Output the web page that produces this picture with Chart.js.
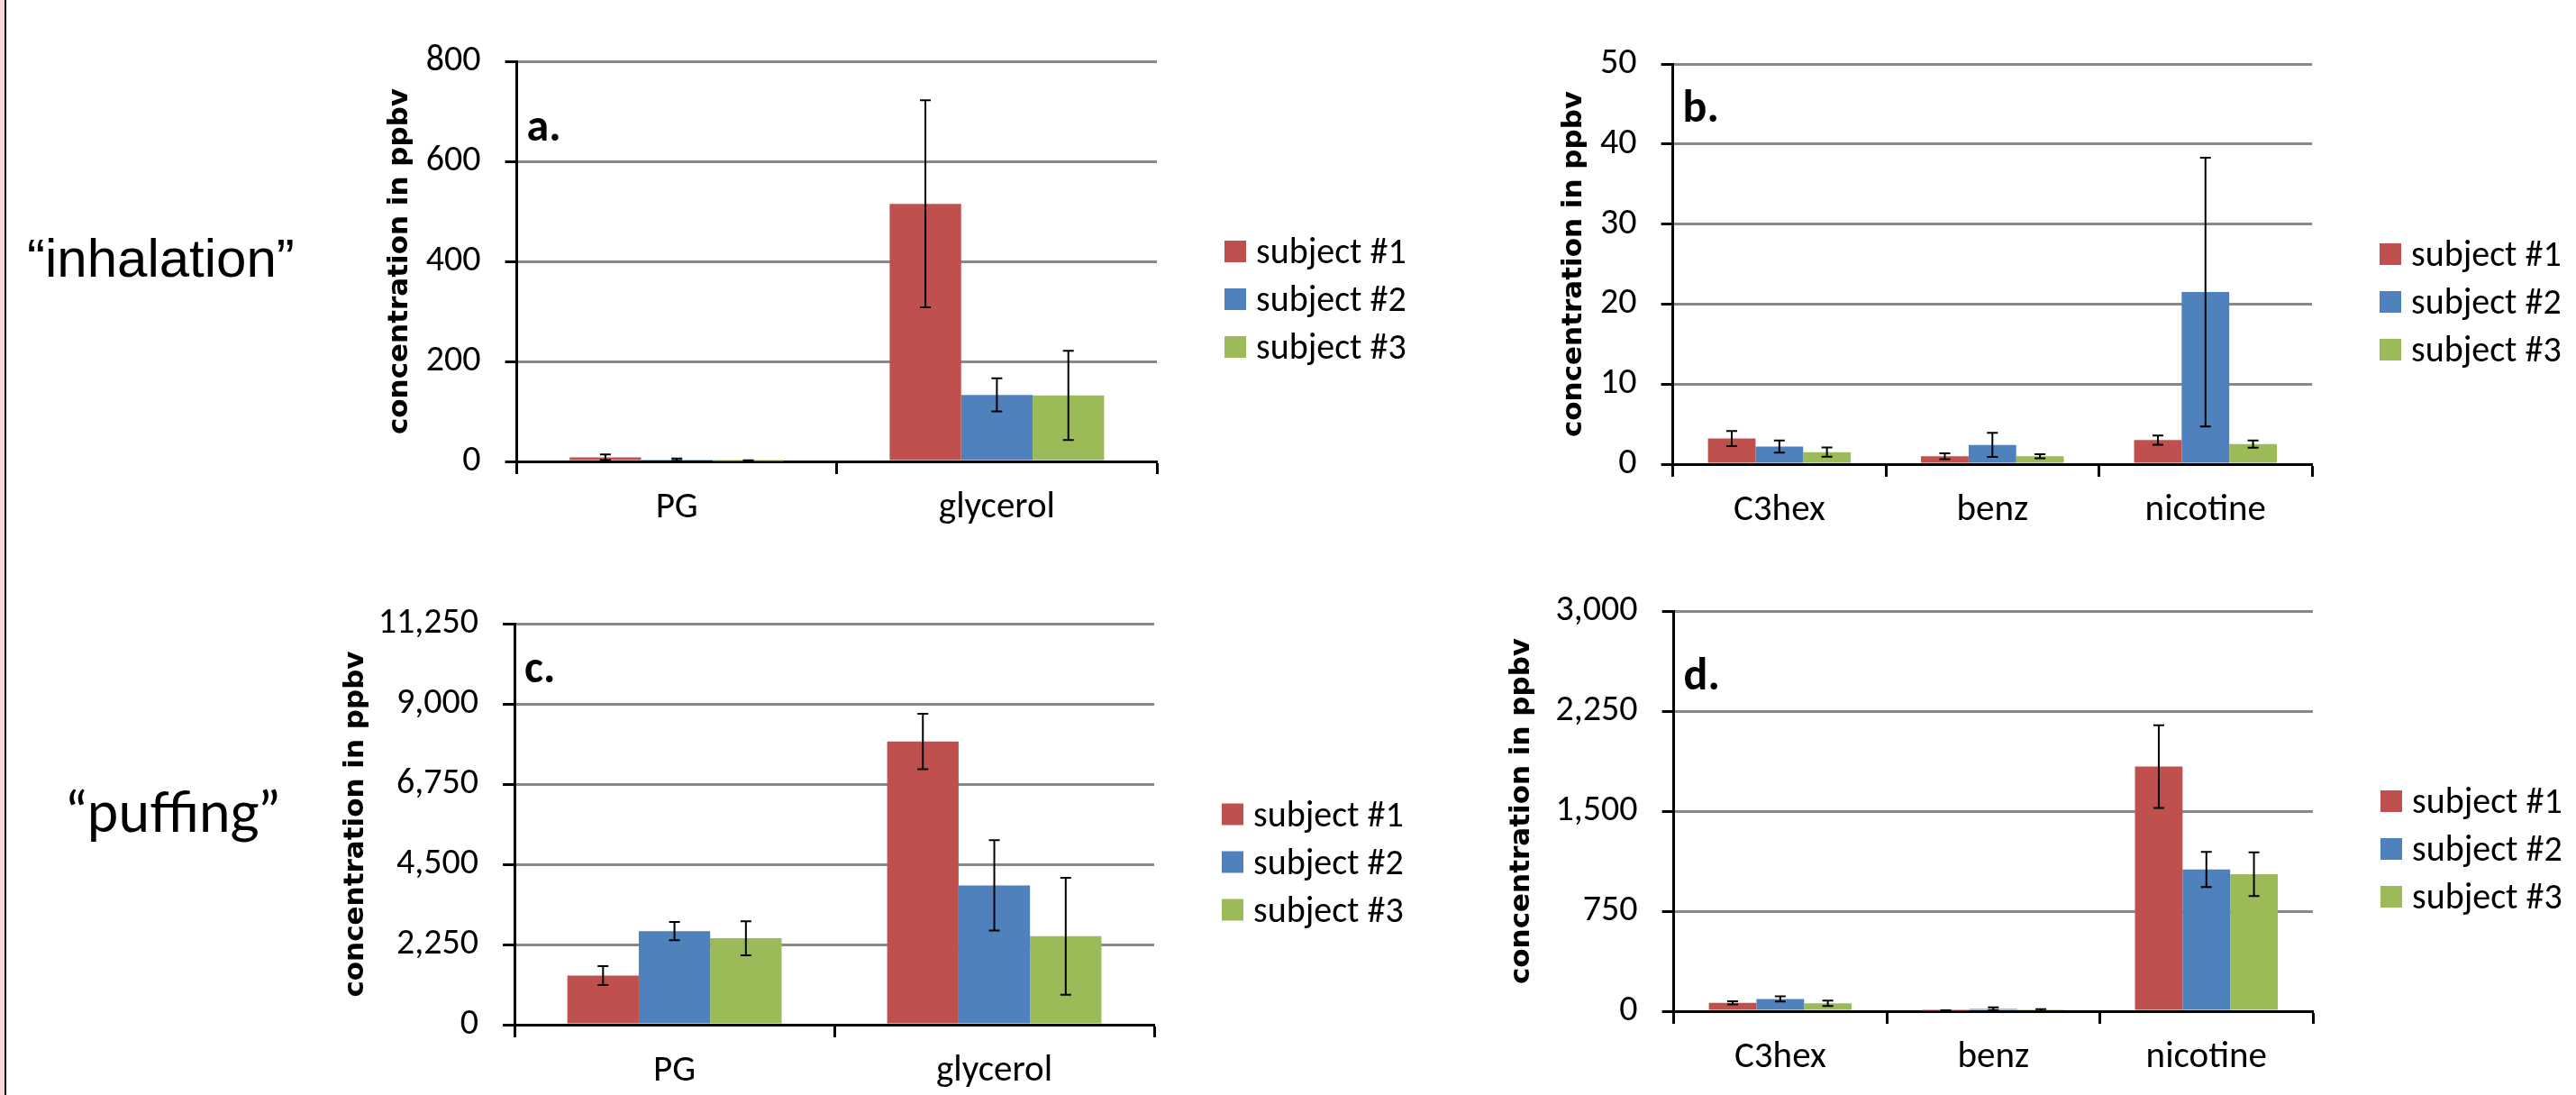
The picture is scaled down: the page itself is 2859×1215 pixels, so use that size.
<!DOCTYPE html>
<html>
<head>
<meta charset="utf-8">
<script src="https://cdn.jsdelivr.net/npm/chart.js@4.4.1/dist/chart.umd.min.js"></script>
<style>
    html, body { margin: 0; padding: 0; background: #fff; }
    body { width: 2859px; height: 1215px; position: relative; overflow: hidden; }
    .edge { position: absolute; left: 0; top: 0; width: 5px; height: 1215px; background: #fcd9d6; border-right: 2px solid #111; }
    .side { position: absolute; color: #000; white-space: nowrap; line-height: 1; font-variant-ligatures: none; }
    canvas { position: absolute; }
</style>
</head>
<body>
<div class="edge"></div>
<div class="side" style="left:30px;top:252px;font:60px 'Liberation Sans', Arial, sans-serif;">“inhalation”</div>
<div class="side" style="left:74px;top:862px;font:62px Lato, sans-serif;">“puffing”</div>

<canvas id="chart-a"></canvas>
<canvas id="chart-b"></canvas>
<canvas id="chart-c"></canvas>
<canvas id="chart-d"></canvas>

<script>
// ── Data ──────────────────────────────────────────────────────────────────────
const seriesNames = ['subject #1', 'subject #2', 'subject #3'];
const seriesColors = ['#C0504D', '#4F81BD', '#9BBB59'];

// a. "inhalation", PG / glycerol
const aCategories = ['PG', 'glycerol'];
const aTicks = [0, 200, 400, 600, 800];
const aSubject1 = [8.3, 515];
const aSubject2 = [3.5, 133];
const aSubject3 = [0.8, 132];
const aSubject1Err = [5.5, 207];
const aSubject2Err = [2.3, 33];
const aSubject3Err = [1.5, 89];

// b. "inhalation", C3hex / benz / nicotine
const bCategories = ['C3hex', 'benz', 'nicotine'];
const bTicks = [0, 10, 20, 30, 40, 50];
const bSubject1 = [3.2, 0.98, 3.0];
const bSubject2 = [2.2, 2.4, 21.5];
const bSubject3 = [1.5, 0.98, 2.5];
const bSubject1Err = [0.95, 0.37, 0.58];
const bSubject2Err = [0.77, 1.5, 16.8];
const bSubject3Err = [0.57, 0.25, 0.45];

// c. "puffing", PG / glycerol
const cCategories = ['PG', 'glycerol'];
const cTicks = [0, 2250, 4500, 6750, 9000, 11250];
const cSubject1 = [1380, 7944];
const cSubject2 = [2625, 3909];
const cSubject3 = [2424, 2482];
const cSubject1Err = [265, 777];
const cSubject2Err = [254, 1265];
const cSubject3Err = [479, 1640];

// d. "puffing", C3hex / benz / nicotine
const dCategories = ['C3hex', 'benz', 'nicotine'];
const dTicks = [0, 750, 1500, 2250, 3000];
const dSubject1 = [63, 4, 1834];
const dSubject2 = [92, 17, 1063];
const dSubject3 = [59, 7, 1027];
const dSubject1Err = [12, 3, 310];
const dSubject2Err = [19, 11, 132];
const dSubject3Err = [20, 8, 164];

// ── Shared styling ────────────────────────────────────────────────────────────
const TEXT_FONT = 'Carlito, Calibri, Lato, sans-serif';
const PAD_TOP = 40;
const X_AXIS_H = 90;
const LEGEND_ROOM = 330;

// whiskers from value - err to value + err
const errorBars = {
    id: 'errorBars',
    afterDatasetsDraw(chart) {
        const { ctx } = chart;
        const y = chart.scales.y;
        ctx.save();
        ctx.strokeStyle = '#000';
        ctx.lineWidth = 2;
        chart.data.datasets.forEach((ds, i) => {
            chart.getDatasetMeta(i).data.forEach((bar, j) => {
                const v = ds.data[j], e = ds.errors[j];
                const top = y.getPixelForValue(v + e);
                const bot = y.getPixelForValue(v - e);
                ctx.beginPath();
                ctx.moveTo(bar.x, top); ctx.lineTo(bar.x, bot);
                ctx.moveTo(bar.x - 6, top); ctx.lineTo(bar.x + 6, top);
                ctx.moveTo(bar.x - 6, bot); ctx.lineTo(bar.x + 6, bot);
                ctx.stroke();
            });
        });
        ctx.restore();
    },
};

// legend to the right of the plot, a little below its middle
const sideLegend = {
    id: 'sideLegend',
    afterDraw(chart) {
        const { ctx, chartArea: a } = chart;
        const mid = (a.top + a.bottom) / 2 + 42;
        ctx.save();
        ctx.font = `40px ${TEXT_FONT}`;
        ctx.textBaseline = 'alphabetic';
        chart.data.datasets.forEach((ds, i) => {
            const cy = mid + (i - 1) * 53;
            ctx.fillStyle = ds.backgroundColor;
            ctx.fillRect(a.right + 75, cy - 12, 24, 24);
            ctx.fillStyle = '#000';
            ctx.fillText(ds.label, a.right + 110, cy + 13);
        });
        ctx.restore();
    },
};

// "a." / "b." ... in the top-left corner of the plot
const panelLetter = {
    id: 'panelLetter',
    afterDraw(chart, args, opts) {
        const { ctx, chartArea: a } = chart;
        ctx.save();
        ctx.font = `bold 50px ${TEXT_FONT}`;
        ctx.fillStyle = '#000';
        ctx.textBaseline = 'alphabetic';
        ctx.fillText(opts.text, a.left + 11, a.top + opts.dy);
        ctx.restore();
    },
};

function makePanel(id, box, categories, ticks, values, errors, letter) {
    const canvas = document.getElementById(id);
    const left = box.titleX - 18.6;
    const yWidth = box.left - left;
    canvas.width = Math.round(box.right - left + LEGEND_ROOM);
    canvas.height = Math.round(PAD_TOP + (box.bottom - box.top) + X_AXIS_H);
    canvas.style.left = left + 'px';
    canvas.style.top = (box.top - PAD_TOP) + 'px';

    new Chart(canvas, {
        type: 'bar',
        data: {
            labels: categories,
            datasets: values.map((v, i) => ({
                label: seriesNames[i],
                data: v,
                errors: errors[i],
                backgroundColor: seriesColors[i],
                categoryPercentage: 0.67,
                barPercentage: 1,
            })),
        },
        options: {
            responsive: false,
            animation: false,
            devicePixelRatio: 1,
            layout: { padding: { left: 0, top: PAD_TOP, right: LEGEND_ROOM, bottom: 0 } },
            plugins: {
                legend: { display: false },
                tooltip: { enabled: false },
                panelLetter: letter,
            },
            scales: {
                x: {
                    z: 1,
                    grid: { offset: true, drawOnChartArea: false, tickLength: 14, tickWidth: 3, tickColor: '#000' },
                    border: { color: '#000', width: 3 },
                    ticks: { color: '#000', font: { family: TEXT_FONT, size: 41 }, padding: 13 },
                    afterFit: s => { s.height = X_AXIS_H; },
                },
                y: {
                    min: 0,
                    max: ticks[ticks.length - 1],
                    afterBuildTicks: s => { s.ticks = ticks.map(v => ({ value: v })); },
                    grid: { color: '#888', lineWidth: 3, tickLength: 13, tickWidth: 3, tickColor: '#000' },
                    border: { color: '#000', width: 3 },
                    ticks: {
                        color: '#000',
                        font: { family: TEXT_FONT, size: 40 },
                        padding: 27,
                        callback: v => v.toLocaleString('en-US'),
                    },
                    title: {
                        display: true,
                        text: 'concentration in ppbv',
                        color: '#000',
                        font: { family: 'DejaVu Sans', size: 31, weight: 'bold' },
                        padding: 0,
                    },
                    afterFit: s => { s.width = yWidth; },
                },
            },
        },
        plugins: [errorBars, sideLegend, panelLetter],
    });
}

makePanel('chart-a', { left: 574, right: 1284, top: 57, bottom: 512, titleX: 444 },
    aCategories, aTicks, [aSubject1, aSubject2, aSubject3], [aSubject1Err, aSubject2Err, aSubject3Err],
    { text: 'a.', dy: 88 });
makePanel('chart-b', { left: 1857, right: 2566, top: 60, bottom: 515, titleX: 1747 },
    bCategories, bTicks, [bSubject1, bSubject2, bSubject3], [bSubject1Err, bSubject2Err, bSubject3Err],
    { text: 'b.', dy: 64 });
makePanel('chart-c', { left: 571, right: 1281, top: 681, bottom: 1137, titleX: 394.5 },
    cCategories, cTicks, [cSubject1, cSubject2, cSubject3], [cSubject1Err, cSubject2Err, cSubject3Err],
    { text: 'c.', dy: 65 });
makePanel('chart-d', { left: 1858, right: 2567, top: 667, bottom: 1122, titleX: 1689 },
    dCategories, dTicks, [dSubject1, dSubject2, dSubject3], [dSubject1Err, dSubject2Err, dSubject3Err],
    { text: 'd.', dy: 87 });
</script>
</body>
</html>
